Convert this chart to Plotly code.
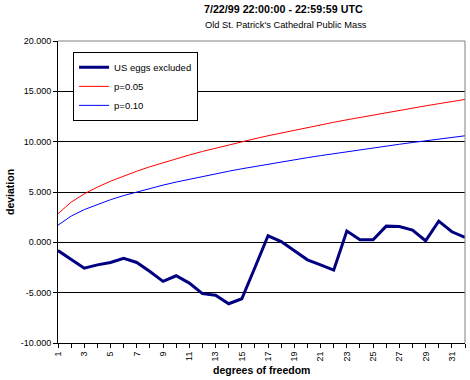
import plotly.graph_objects as go

df = list(range(1, 33))
us_eggs_excluded = [-0.82, -1.70, -2.57, -2.24, -2.00, -1.58, -2.00, -2.90, -3.88, -3.32,
                    -4.05, -5.10, -5.26, -6.10, -5.60, -2.50, 0.65, 0.07, -0.82, -1.74,
                    -2.23, -2.76, 1.12, 0.26, 0.26, 1.61, 1.58, 1.22, 0.16, 2.10, 1.05, 0.50]
p005 = [2.841, 3.991, 4.815, 5.488, 6.070, 6.592, 7.067, 7.507, 7.919, 8.307,
        8.675, 9.026, 9.362, 9.685, 9.996, 10.296, 10.587, 10.869, 11.144, 11.410,
        11.671, 11.924, 12.172, 12.415, 12.652, 12.885, 13.113, 13.337, 13.557, 13.773,
        13.985, 14.194]
p010 = [1.706, 2.605, 3.251, 3.779, 4.236, 4.645, 5.017, 5.362, 5.684, 5.987,
        6.275, 6.549, 6.812, 7.064, 7.307, 7.542, 7.769, 7.989, 8.204, 8.412,
        8.615, 8.813, 9.007, 9.196, 9.382, 9.563, 9.741, 9.916, 10.087, 10.256,
        10.422, 10.585]
y_ticks = [-10, -5, 0, 5, 10, 15, 20]
y_tick_labels = ["-10.000", "-5.000", "0.000", "5.000", "10.000", "15.000", "20.000"]
x_tick_labels = [str(v) if v % 2 == 1 else "" for v in df]

FONT = "Liberation Sans, Arial, sans-serif"

fig = go.Figure()
fig.add_trace(go.Scatter(x=df, y=us_eggs_excluded, mode="lines", name="US eggs excluded",
                         line=dict(color="#000080", width=3)))
fig.add_trace(go.Scatter(x=df, y=p005, mode="lines", name="p=0.05",
                         line=dict(color="#FF0000", width=1)))
fig.add_trace(go.Scatter(x=df, y=p010, mode="lines", name="p=0.10",
                         line=dict(color="#0000FF", width=1)))

fig.update_layout(
    width=470, height=380,
    margin=dict(l=58, r=5, t=41, b=37, autoexpand=False),
    paper_bgcolor="white", plot_bgcolor="white",
    font=dict(family=FONT, size=9, color="black"),
    showlegend=True,
    legend=dict(x=0.037, y=0.964, xanchor="left", yanchor="top",
                bgcolor="white", bordercolor="black", borderwidth=1,
                font=dict(size=9.5), tracegroupgap=0, itemwidth=30),
    xaxis=dict(range=[1, 32], tickvals=df, ticktext=x_tick_labels, tickangle=-90,
               ticks="outside", ticklen=4, tickcolor="black", showgrid=False,
               showline=True, linecolor="black", linewidth=1, zeroline=False,
               tickfont=dict(size=9), automargin=False),
    yaxis=dict(range=[-10, 20], tickvals=y_ticks, ticktext=y_tick_labels,
               ticks="outside", ticklen=4, tickcolor="black", showgrid=True,
               gridcolor="black", gridwidth=1, showline=True, linecolor="black",
               zeroline=False, tickfont=dict(size=9), automargin=False),
    shapes=[
        dict(type="line", xref="x domain", yref="y domain", x0=0, x1=1, y0=1, y1=1,
             line=dict(color="#808080", width=1), layer="above"),
        dict(type="line", xref="x domain", yref="y domain", x0=1, x1=1, y0=0, y1=1,
             line=dict(color="#808080", width=1), layer="above"),
        dict(type="rect", xref="x domain", yref="y domain", x0=(76 - 58) / 407,
             x1=(198 - 58) / 407, y0=(343 - 120) / 302, y1=(343 - 56) / 302,
             fillcolor="black", line=dict(width=0), layer="above"),
    ],
    annotations=[
        dict(text="<b>7/22/99 22:00:00 - 22:59:59 UTC</b>", xref="paper", yref="paper",
             x=0.555, y=1.0, yshift=32, yanchor="middle", showarrow=False,
             font=dict(size=10.7)),
        dict(text="Old St. Patrick's Cathedral Public Mass", xref="paper", yref="paper",
             x=0.56, y=1.0, yshift=16, yanchor="middle", showarrow=False,
             font=dict(size=9.3)),
        dict(text="<b>degrees of freedom</b>", xref="paper", yref="paper",
             x=0.5, y=0, yshift=-27, yanchor="middle", showarrow=False,
             font=dict(size=10.5)),
        dict(text="<b>deviation</b>", xref="paper", yref="paper", textangle=-90,
             x=0, xshift=-48, y=0.5, xanchor="center", showarrow=False,
             font=dict(size=10.5)),
    ],
)

fig.write_html("out.html", config={"displayModeBar": False},
               post_script="document.body.style.margin='0';document.body.style.overflow='hidden';")
